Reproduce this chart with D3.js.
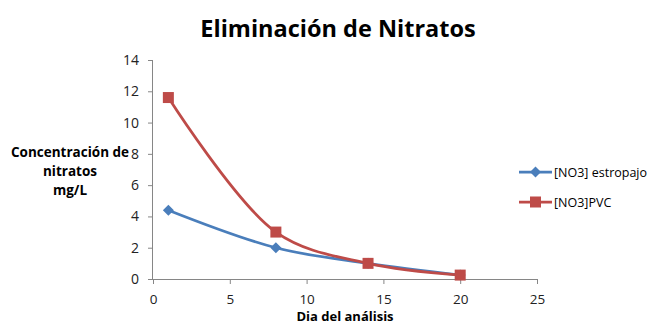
<!DOCTYPE html>
<html>
<head>
<meta charset="utf-8">
<script src="https://cdn.jsdelivr.net/npm/d3@7"></script>
<style>
  body { margin: 0; background: #fff; }
  svg { display: block; font-family: "Open Sans", "Noto Sans", sans-serif; }
</style>
</head>
<body>
<div id="chart"></div>
<script>
(function() {
    'use strict';

    // Datos
    var dias = [1, 8, 14, 20];
    var estropajo = [4.4, 2.0, 1.0, 0.25];
    var pvc = [11.6, 3.0, 1.0, 0.25];
    var xTicks = [0, 5, 10, 15, 20, 25];
    var yTicks = [0, 2, 4, 6, 8, 10, 12, 14];

    var series = [
        { name: '[NO3] estropajo', values: estropajo, color: '#4a7ebb', marker: 'diamond' },
        { name: '[NO3]PVC', values: pvc, color: '#be4b48', marker: 'square' }
    ];

    var width = 649, height = 323;
    var x = d3.scaleLinear().domain([0, 25]).range([153, 537]);
    var y = d3.scaleLinear().domain([0, 14]).range([279, 60]);

    var svg = d3.select('#chart').append('svg')
        .attr('width', width)
        .attr('height', height);

    // Title
    svg.append('text')
        .attr('x', 338).attr('y', 37)
        .attr('text-anchor', 'middle')
        .attr('font-size', '23.5px')
        .attr('font-weight', 700)
        .attr('fill', '#000')
        .text('Eliminación de Nitratos');

    // Axes
    var axisColor = '#868686';
    var gx = svg.append('g')
        .attr('transform', 'translate(0,' + y(0) + ')')
        .call(d3.axisBottom(x).tickValues(xTicks).tickSize(5).tickPadding(10));
    var gy = svg.append('g')
        .attr('transform', 'translate(' + x(0) + ',0)')
        .call(d3.axisLeft(y).tickValues(yTicks).tickSize(5).tickPadding(9));

    [gx, gy].forEach(function(g) {
        g.select('.domain').attr('stroke', axisColor).attr('stroke-width', 1);
        g.selectAll('.tick line').attr('stroke', axisColor);
        g.selectAll('.tick text')
            .attr('font-size', '14px')
            .attr('fill', '#222')
            .style('font-family', '"Open Sans", sans-serif');
    });
    gx.selectAll('.tick text').attr('font-size', '13.5px');
    gx.select('.domain').attr('d', 'M' + x(0) + ',0.5H' + x(25));
    gy.select('.domain').attr('d', 'M-0.5,' + y(14) + 'V' + y(0));

    // Axis titles
    var yTitle = svg.append('text')
        .attr('text-anchor', 'middle')
        .attr('font-size', '13.5px')
        .attr('font-weight', 700)
        .attr('fill', '#000');
    yTitle.append('tspan').attr('x', 70).attr('y', 157).text('Concentración de');
    yTitle.append('tspan').attr('x', 70).attr('y', 176).text('nitratos');
    yTitle.append('tspan').attr('x', 70).attr('y', 195).text('mg/L');

    svg.append('text')
        .attr('x', 345).attr('y', 320.5)
        .attr('text-anchor', 'middle')
        .attr('font-size', '13px')
        .attr('font-weight', 700)
        .attr('fill', '#000')
        .text('Dia del análisis');

    // Lines
    var line = d3.line()
        .x(function(d, i) { return x(dias[i]); })
        .y(function(d) { return y(d); })
        .curve(d3.curveCatmullRom.alpha(0.5));

    function drawMarker(g, type, cx, cy, color) {
        if (type === 'square') {
            g.append('rect')
                .attr('x', cx - 5.5).attr('y', cy - 5.5)
                .attr('width', 11).attr('height', 11)
                .attr('fill', color);
        } else {
            g.append('path')
                .attr('d', 'M' + cx + ',' + (cy - 5.5) + 'L' + (cx + 5.5) + ',' + cy +
                    'L' + cx + ',' + (cy + 5.5) + 'L' + (cx - 5.5) + ',' + cy + 'Z')
                .attr('fill', color);
        }
    }

    var plot = svg.append('g');
    series.forEach(function(s) {
        plot.append('path')
            .attr('d', line(s.values))
            .attr('fill', 'none')
            .attr('stroke', s.color)
            .attr('stroke-width', 2.75)
            .attr('stroke-linejoin', 'round');
    });
    series.forEach(function(s) {
        s.values.forEach(function(v, i) {
            drawMarker(plot, s.marker, x(dias[i]), y(v), s.color);
        });
    });

    // Legend
    var legend = svg.append('g');
    series.forEach(function(s, i) {
        var ly = 172 + i * 30;
        legend.append('line')
            .attr('x1', 519).attr('x2', 552)
            .attr('y1', ly).attr('y2', ly)
            .attr('stroke', s.color)
            .attr('stroke-width', 2.75);
        drawMarker(legend, s.marker, 535.5, ly, s.color);
        legend.append('text')
            .attr('x', 554).attr('y', ly + 4.5)
            .attr('font-size', '12.5px')
            .attr('fill', '#000')
            .text(s.name);
    });
})();
</script>
</body>
</html>
